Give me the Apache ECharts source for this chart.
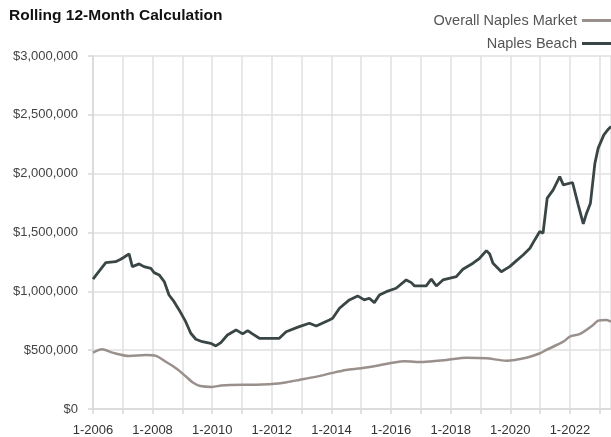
<!DOCTYPE html>
<html>
<head>
<meta charset="utf-8">
<script src="https://cdn.jsdelivr.net/npm/echarts@6/dist/echarts.min.js"></script>
<style>html,body{margin:0;padding:0;background:#fff;}#c{width:611px;height:437px;}</style>
</head>
<body>
<div id="c"></div>
<script>
// Naples Beach: time (decimal year) and rolling 12-month value (thousands $)
var beachT = [2006.0,2006.2,2006.43,2006.76,2006.93,2007.04,2007.21,2007.27,2007.32,2007.55,2007.71,2007.94,2008.05,2008.22,2008.39,2008.55,2008.72,2008.89,2009.11,2009.28,2009.45,2009.67,2009.95,2010.12,2010.29,2010.51,2010.8,2011.02,2011.19,2011.35,2011.58,2012.25,2012.48,2012.92,2013.26,2013.49,2013.93,2014.04,2014.27,2014.6,2014.88,2015.1,2015.27,2015.44,2015.61,2015.84,2016.17,2016.51,2016.68,2016.79,2017.18,2017.35,2017.52,2017.74,2018.19,2018.41,2018.75,2018.97,2019.2,2019.31,2019.42,2019.7,2019.98,2020.21,2020.43,2020.66,2020.82,2020.99,2021.1,2021.24,2021.44,2021.66,2021.78,2022.09,2022.28,2022.45,2022.56,2022.69,2022.84,2022.95,2023.14,2023.29,2023.38];
var beachV = [1103,1170,1244,1252,1273,1290,1318,1330,1210,1233,1210,1196,1159,1139,1083,969,912,842,742,644,593,572,558,536,564,629,672,638,666,638,601,601,657,700,729,706,757,771,856,927,961,927,941,904,969,997,1026,1097,1074,1046,1046,1103,1046,1097,1125,1188,1239,1281,1346,1318,1239,1167,1210,1261,1309,1366,1437,1508,1494,1792,1862,1975,1905,1925,1735,1573,1664,1749,2089,2217,2330,2378,2400];
// Overall Naples Market
var marketT = [2006.0,2006.31,2006.65,2007.21,2007.77,2008.11,2008.44,2008.83,2009.1,2009.35,2009.6,2010.0,2010.3,2010.6,2011.5,2012.0,2012.5,2012.92,2013.5,2014.0,2014.49,2015.0,2015.61,2016.0,2016.45,2017.07,2017.86,2018.53,2019.2,2019.87,2020.54,2021.0,2021.21,2021.78,2022.0,2022.34,2022.78,2022.95,2023.23,2023.38];
var marketV = [479,507,479,451,459,451,402,338,280,225,195,188,200,205,207,212,228,247,275,305,332,347,372,390,405,400,417,436,431,411,436,474,502,572,615,638,714,751,757,742];
var seriesNames = ['Overall Naples Market', 'Naples Beach'];
var titleText = 'Rolling 12-Month Calculation';
var yTicks = [0, 500000, 1000000, 1500000, 2000000, 2500000, 3000000];

function pairs(t, v) { return t.map(function (x, i) { return [x, v[i] * 1000]; }); }
var FONT = "'Liberation Sans Narrow', 'Arial Narrow', 'Liberation Sans', sans-serif";
var chart = echarts.init(document.getElementById('c'), null, {renderer: 'canvas'});
chart.setOption({
  animation: false,
  backgroundColor: '#fff',
  title: {text: titleText, left: 4, top: 3, textStyle: {fontFamily: FONT, fontWeight: 'bold', fontSize: 15.5, color: '#111'}},
  legend: {
    orient: 'vertical', right: -10, top: 8, align: 'right', itemGap: 8,
    icon: 'rect', itemWidth: 34, itemHeight: 3,
    data: seriesNames,
    textStyle: {fontFamily: FONT, fontSize: 14.5, color: '#555', padding: [0, 0, 0, 0]}
  },
  grid: {left: 93, right: 0, top: 56, bottom: 28, containLabel: false},
  xAxis: {
    type: 'value', min: 2006, max: 2023.38, interval: 1,
    axisLine: {show: true, lineStyle: {color: '#d8d8d8', width: 1.5}},
    axisTick: {show: true, length: 5, lineStyle: {color: '#d8d8d8', width: 1.5}},
    splitLine: {show: true, lineStyle: {color: '#e0e0e0', width: 1.5}},
    axisLabel: {
      margin: 15, showMaxLabel: false, color: '#333', fontFamily: FONT, fontSize: 13,
      formatter: function (v) { return (Math.round(v) % 2 === 0) ? '1-' + Math.round(v) : ''; }
    }
  },
  yAxis: {
    type: 'value', min: yTicks[0], max: yTicks[yTicks.length - 1], interval: 500000,
    axisLine: {show: true, lineStyle: {color: '#d8d8d8', width: 1.5}},
    axisTick: {show: true, length: 5, lineStyle: {color: '#d8d8d8', width: 1.5}},
    splitLine: {show: true, lineStyle: {color: '#e0e0e0', width: 1.5}},
    axisLabel: {
      margin: 15, color: '#444', fontFamily: FONT, fontSize: 13,
      formatter: function (v) { return '$' + v.toLocaleString('en-US'); }
    }
  },
  series: [
    {name: seriesNames[0], type: 'line', symbol: 'none', smooth: 0.3, data: pairs(marketT, marketV),
     lineStyle: {color: '#9a908b', width: 2.5}, itemStyle: {color: '#9a908b'}},
    {name: seriesNames[1], type: 'line', symbol: 'none', data: pairs(beachT, beachV),
     lineStyle: {color: '#3a4646', width: 2.8}, itemStyle: {color: '#3a4646'}}
  ]
});
</script>
</body>
</html>
